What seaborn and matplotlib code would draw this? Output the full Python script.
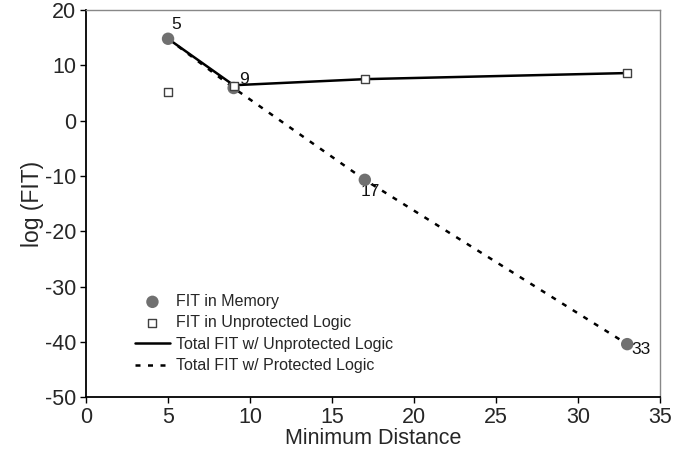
import matplotlib
matplotlib.use("Agg")
import matplotlib.pyplot as plt
import seaborn as sns
import pandas as pd

distance = [5, 9, 17, 33]
fit_memory = [14.8, 5.9, -10.7, -40.4]
fit_unprot_logic = [5.2, 6.3, 7.5, 8.6]
total_unprot = [14.8, 6.4, 7.5, 8.6]
total_prot = [14.8, 5.9, -10.7, -40.4]
point_labels = ["5", "9", "17", "33"]

sns.set_theme(style="white")
plt.rcParams['font.family'] = ['Liberation Sans', 'DejaVu Sans']
plt.rcParams['axes.unicode_minus'] = False

fig, ax = plt.subplots(figsize=(6.94, 4.54), dpi=100)
fig.subplots_adjust(left=0.124, right=0.951, top=0.978, bottom=0.125)

df = pd.DataFrame({"d": distance, "mem": fit_memory, "ul": fit_unprot_logic,
                   "tu": total_unprot, "tp": total_prot})

sns.lineplot(data=df, x="d", y="tu", ax=ax, color="black", lw=1.8,
             label="Total FIT w/ Unprotected Logic", zorder=3)
sns.lineplot(data=df, x="d", y="tp", ax=ax, color="black", lw=1.8,
             linestyle=(0, (2, 3)), label="Total FIT w/ Protected Logic", zorder=3)
sns.scatterplot(data=df, x="d", y="mem", ax=ax, color="#707070", s=80,
                edgecolor="none", label="FIT in Memory", zorder=4)
sns.scatterplot(data=df, x="d", y="ul", ax=ax, marker="s", facecolor="white",
                edgecolor="#404040", linewidth=1.0, s=35,
                label="FIT in Unprotected Logic", zorder=5)

offsets = [(2, 5), (4, 1), (-3, -14), (3, -9)]
for xv, yv, t, (dx, dy) in zip(distance, fit_memory, point_labels, offsets):
    ax.annotate(t, (xv, yv), xytext=(dx, dy), textcoords="offset points",
                fontsize=12.5, color="#111111", ha="left", va="bottom")

ax.set_xlim(0, 35)
ax.set_ylim(-50, 20)
ax.set_xticks(range(0, 36, 5))
ax.set_yticks(range(-50, 21, 10))
ax.set_xlabel("Minimum Distance", fontsize=15.5, labelpad=0)
ax.set_ylabel("log (FIT)", fontsize=16.5, labelpad=1)
ax.tick_params(axis="both", labelsize=15.5, direction="out", length=4,
               width=1, color="black", left=True, bottom=True)
ax.tick_params(axis="y", pad=3)
ax.tick_params(axis="x", pad=3)

for s in ["left", "bottom"]:
    ax.spines[s].set_color("black")
    ax.spines[s].set_linewidth(1.3)
for s in ["top", "right"]:
    ax.spines[s].set_color("#888888")
    ax.spines[s].set_linewidth(1.0)

h, l = ax.get_legend_handles_labels()
order = [2, 3, 0, 1]
ax.legend([h[i] for i in order], [l[i] for i in order], loc="lower left",
          bbox_to_anchor=(0.06, 0.025), frameon=False, fontsize=11.5,
          handlelength=2.2, handletextpad=0.4, labelspacing=0.4)

fig.savefig("out.png", dpi=100)
